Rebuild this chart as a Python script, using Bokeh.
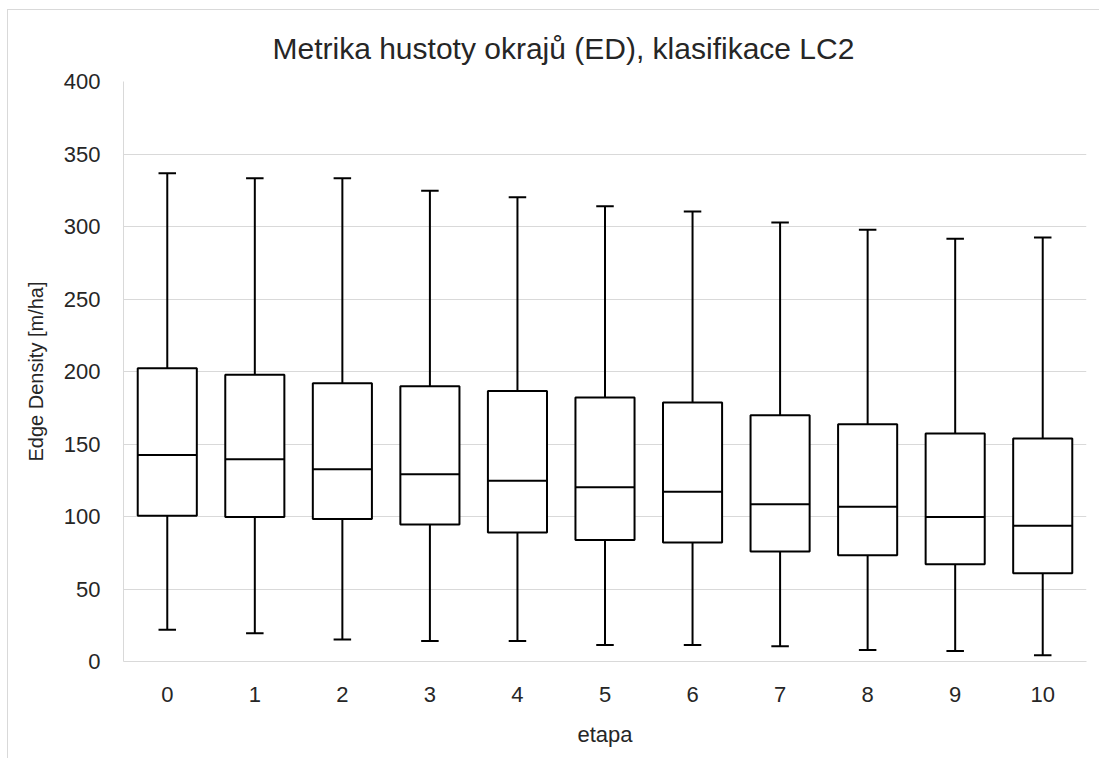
import numpy as np
from bokeh.plotting import figure
from bokeh.models import FixedTicker, Range1d, Title
from bokeh.embed import file_html
from bokeh.resources import INLINE

etapa = [0, 1, 2, 3, 4, 5, 6, 7, 8, 9, 10]
ed_max = [336.7, 333.3, 333.3, 324.6, 320.2, 313.9, 310.3, 302.7, 297.8, 291.6, 292.5]
ed_q3 = [202.3, 197.8, 191.9, 189.8, 186.5, 182.0, 178.6, 169.8, 163.6, 157.3, 153.8]
ed_median = [142.5, 139.5, 132.6, 129.2, 124.6, 120.2, 117.0, 108.5, 106.8, 99.7, 93.7]
ed_q1 = [100.6, 99.7, 98.3, 94.4, 88.9, 83.8, 82.0, 75.8, 73.3, 67.1, 60.9]
ed_min = [21.9, 19.4, 15.1, 14.1, 14.1, 11.4, 11.4, 10.5, 7.9, 7.2, 4.3]
y_ticks = [0, 50, 100, 150, 200, 250, 300, 350, 400]

FONT = "Liberation Sans"
GRID = "#d9d9d9"
TXT = "#262626"

p = figure(
    frame_width=963, frame_height=580,
    min_border_left=115, min_border_right=13, min_border_top=71, min_border_bottom=97,
    x_range=Range1d(-0.5, 10.5), y_range=Range1d(0, 400),
    output_backend="svg", toolbar_location=None,
    outline_line_color=None,
)
p.styles = {"border-top": "1px solid #d9d9d9", "border-left": "1px solid #d9d9d9",
            "margin-top": "9px", "margin-left": "7px"}

p.title = Title(text="Metrika hustoty okrajů (ED), klasifikace LC2", align="left",
                text_font=FONT, text_font_size="30px", text_font_style="normal",
                text_color=TXT, offset=149, standoff=34)

x = np.array(etapa, dtype=float)
bw = 0.675
cw = 0.2

# whiskers
p.segment(x0=x, y0=ed_q3, x1=x, y1=ed_max, line_color="black", line_width=2)
p.segment(x0=x, y0=ed_q1, x1=x, y1=ed_min, line_color="black", line_width=2)
# caps
p.segment(x0=x - cw / 2, y0=ed_max, x1=x + cw / 2, y1=ed_max, line_color="black", line_width=2)
p.segment(x0=x - cw / 2, y0=ed_min, x1=x + cw / 2, y1=ed_min, line_color="black", line_width=2)
# boxes
p.vbar(x=x, width=bw, top=ed_q3, bottom=ed_q1, fill_color="white", line_color="black", line_width=2)
# medians
p.segment(x0=x - bw / 2, y0=ed_median, x1=x + bw / 2, y1=ed_median, line_color="black", line_width=2)

p.xgrid.grid_line_color = None
p.ygrid.grid_line_color = GRID
p.ygrid.grid_line_width = 1
p.ygrid.ticker = FixedTicker(ticks=y_ticks)

p.yaxis.ticker = FixedTicker(ticks=y_ticks)
p.xaxis.ticker = FixedTicker(ticks=etapa)

for ax in (p.xaxis, p.yaxis):
    ax.axis_line_color = GRID
    ax.major_tick_line_color = None
    ax.minor_tick_line_color = None
    ax.major_label_text_font = FONT
    ax.major_label_text_font_size = "22px"
    ax.major_label_text_color = TXT
    ax.axis_label_text_font = FONT
    ax.axis_label_text_font_style = "normal"
    ax.axis_label_text_color = TXT

p.yaxis.axis_label = "Edge Density [m/ha]"
p.yaxis.axis_label_text_font_size = "20px"
p.yaxis.major_label_standoff = 17
p.yaxis.axis_label_standoff = 14

p.xaxis.axis_label = "etapa"
p.xaxis.axis_label_text_font_size = "22px"
p.xaxis.major_label_standoff = 19
p.xaxis.axis_label_standoff = 17

open("out.html", "w").write(file_html(p, INLINE))
